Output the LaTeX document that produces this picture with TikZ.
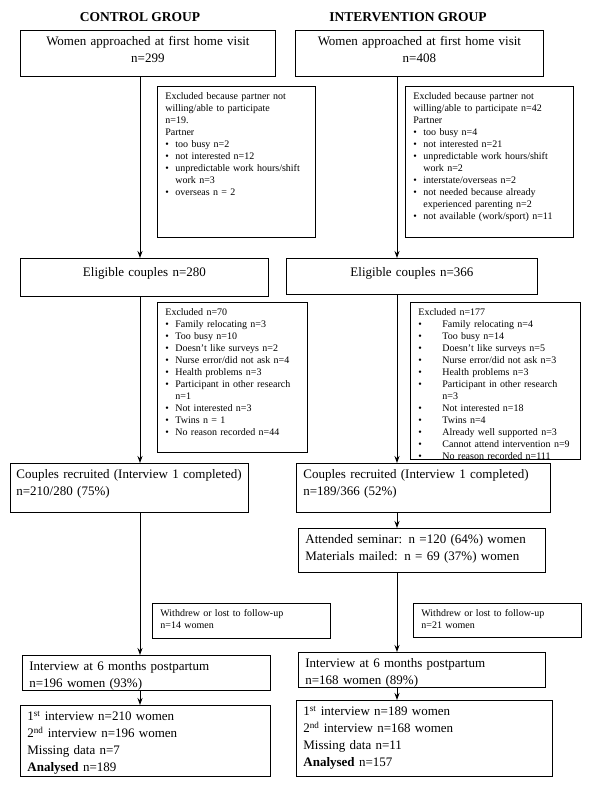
\documentclass[tikz,border=0pt]{standalone}
\usepackage{fontspec}
\setmainfont{Liberation Serif}
\usetikzlibrary{arrows.meta,positioning}

\tikzset{
  box/.style={draw, line width=0.8pt, anchor=north west, align=left,
    inner xsep=7pt, inner ysep=4pt, text height=11pt,
    font=\fontsize{13}{17}\selectfont},
  small/.style={inner xsep=8pt, inner ysep=5pt, text height=8pt,
    font=\fontsize{10}{12}\selectfont},
  head/.style={font=\fontsize{13.5}{16}\selectfont\bfseries},
  flow/.style={-{Stealth[length=7pt,width=5pt]}, line width=1pt},
}
\newcommand{\bul}{\makebox[10pt][l]{\textbullet}}
\newcommand{\bulw}{\makebox[24pt][l]{\textbullet}}

\begin{document}
\begin{tikzpicture}[x=1pt,y=-1pt]
  \useasboundingbox (0,0) rectangle (600,790);
  % column headings
  \node[head] (c-head) at (140,17) {CONTROL GROUP};
  \node[head] (i-head) at (408,17) {INTERVENTION GROUP};
  \coordinate (cx) at (140,0);
  \coordinate (ix) at (397,0);

  % approached
  \node[box, align=center, text width=241pt, text depth=27pt] (c-app) at (20,30)
    {Women approached at first home visit\\ n=299};
  \node[box, align=center, text width=234pt, text depth=27pt] (i-app) at (295,30)
    {Women approached at first home visit\\ n=408};

  % partner exclusions
  \node[box, small, text width=142pt, text depth=133pt] (c-ex1) at (157,86)
    {Excluded because partner not\\ willing/able to participate\\ n=19.\\ Partner\\
     \bul too busy n=2\\ \bul not interested n=12\\
     \bul unpredictable work hours/shift\\ \hspace*{10pt}work n=3\\
     \bul overseas n = 2};
  \node[box, small, text width=152pt, text depth=133pt] (i-ex1) at (405,86)
    {Excluded because partner not\\ willing/able to participate n=42\\ Partner\\
     \bul too busy n=4\\ \bul not interested n=21\\
     \bul unpredictable work hours/shift\\ \hspace*{10pt}work n=2\\
     \bul interstate/overseas n=2\\
     \bul not needed because already\\ \hspace*{10pt}experienced parenting n=2\\
     \bul not available (work/sport) n=11};

  % eligible
  \node[box, align=center, text width=234pt, text height=14pt, text depth=16pt] (c-elig) at (20,258)
    {Eligible couples n=280};
  \node[box, align=center, text width=237pt, text height=14pt, text depth=14pt] (i-elig) at (286,258)
    {Eligible couples n=366};

  % other exclusions
  \node[box, small, text width=134pt, text depth=132pt] (c-ex2) at (157,302)
    {Excluded n=70\\ \bul Family relocating n=3\\ \bul Too busy n=10\\
     \bul Doesn’t like surveys n=2\\ \bul Nurse error/did not ask n=4\\
     \bul Health problems n=3\\ \bul Participant in other research\\
     \hspace*{10pt}n=1\\ \bul Not interested n=3\\ \bul Twins n = 1\\
     \bul No reason recorded n=44};
  \node[box, small, text width=154pt, text depth=139pt] (i-ex2) at (410,302)
    {Excluded n=177\\ \bulw Family relocating n=4\\ \bulw Too busy n=14\\
     \bulw Doesn’t like surveys n=5\\ \bulw Nurse error/did not ask n=3\\
     \bulw Health problems n=3\\ \bulw Participant in other research\\
     \hspace*{24pt}n=3\\ \bulw Not interested n=18\\ \bulw Twins n=4\\
     \bulw Already well supported n=3\\ \bulw Cannot attend intervention n=9\\
     \bulw No reason recorded n=111};

  % recruited
  \node[box, text width=226pt, inner xsep=6pt, text depth=30pt] (c-rec) at (10,463)
    {\mbox{Couples recruited (Interview 1 completed)}\\ n=210/280 (75\%)};
  \node[box, text width=240pt, text depth=30pt] (i-rec) at (296,463)
    {\mbox{Couples recruited (Interview 1 completed)}\\ n=189/366 (52\%)};
  \node[box, text width=233pt, text depth=25pt] (i-sem) at (298,528)
    {Attended seminar: n =120 (64\%) women\\ Materials mailed: n = 69 (37\%) women};

  % losses
  \node[box, small, text width=162pt, text depth=17pt] (c-wd) at (152,603)
    {Withdrew or lost to follow-up\\ n=14 women};
  \node[box, small, text width=152pt, text depth=16pt] (i-wd) at (413,603)
    {Withdrew or lost to follow-up\\ n=21 women};

  % 6 months
  \node[box, text width=234pt, text depth=16pt] (c-int) at (22,655)
    {Interview at 6 months postpartum\\ n=196 women (93\%)};
  \node[box, text width=233pt, text depth=16pt] (i-int) at (298,652)
    {Interview at 6 months postpartum\\ n=168 women (89\%)};

  % analysed
  \node[box, text width=236pt, text depth=52pt] (c-fin) at (20,705)
    {1\textsuperscript{st} interview n=210 women\\ 2\textsuperscript{nd} interview n=196 women\\
     Missing data n=7\\ \textbf{Analysed} n=189};
  \node[box, text width=242pt, text depth=57pt] (i-fin) at (296,700)
    {1\textsuperscript{st} interview n=189 women\\ 2\textsuperscript{nd} interview n=168 women\\
     Missing data n=11\\ \textbf{Analysed} n=157};

  \draw[flow] (c-app.south -| cx) -- (c-elig.north -| cx);
  \draw[flow] (i-app.south -| ix) -- (i-elig.north -| ix);
  \draw[flow] (c-elig.south -| cx) -- (c-rec.north -| cx);
  \draw[flow] (i-elig.south -| ix) -- (i-rec.north -| ix);
  \draw[flow] (i-rec.south -| ix) -- (i-sem.north -| ix);
  \draw[flow] (c-rec.south -| cx) -- (c-int.north -| cx);
  \draw[flow] (i-sem.south -| ix) -- (i-int.north -| ix);
  \draw[flow] (c-int.south -| cx) -- (c-fin.north -| cx);
  \draw[flow] (i-int.south -| ix) -- (i-fin.north -| ix);
\end{tikzpicture}
\end{document}
